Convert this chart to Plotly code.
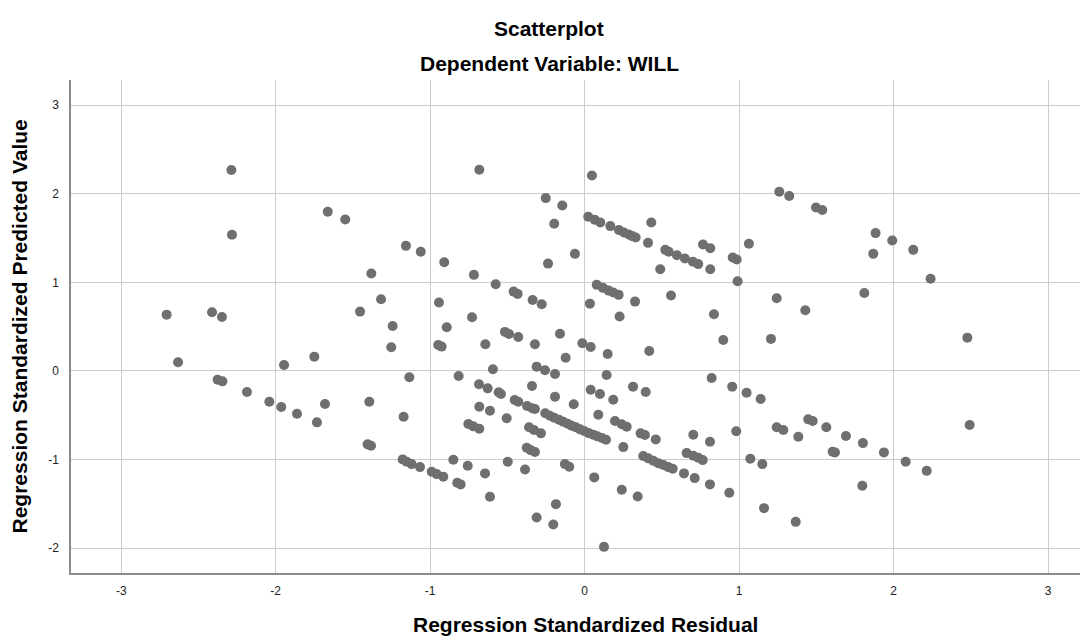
import plotly.graph_objects as go

# Regression Standardized Residual (x) and Regression Standardized Predicted Value (y)
residual = [
    -2.287, -2.283, -1.663, -1.550, -1.157, -1.381, -1.318, -1.454, -1.243, -2.706, -2.412, -2.348,
    -1.252, -2.632, -1.946, -1.750, -2.376, -2.345, -2.186, -2.041, -1.964, -1.862, -1.681, -1.733,
    -1.394, -1.172, -1.135, -1.405, -1.383, -1.178, -1.152,
    -1.061, -0.909, -0.682, -0.717, -0.576, -0.460, -0.434, -0.337, -0.278, -0.943, -0.729, -0.893,
    -0.252, -0.145, -0.197, -0.237, -0.063, 0.047,
    0.023, 0.065, 0.101, 0.166, 0.222, 0.254, 0.285, 0.308, 0.330,
    0.431, 0.410, 0.522, 0.544, 0.597, 0.649, 0.701, 0.735, 0.489, 0.766, 0.813, 0.813, 0.958, 0.984,
    1.063, 0.990, 0.078, 0.118, 0.155, 0.185, 0.220, 0.034, 0.326, 0.559, 0.226, 0.837,
    1.260, 1.324, 1.497, 1.538, 1.883, 1.991, 2.127, 1.868, 2.239, 1.243, 1.428, 1.810,
    1.206, 2.477, 2.492, 1.048, 1.139, 1.243, 1.286, 1.383, 1.447, 1.476, 1.564, 1.691, 1.801,
    1.605, 1.620, 1.937, 2.078, 2.214, 1.797, 1.072, 1.150, 1.161, 1.366,
    -0.948, -0.926, -0.816, -0.643, -0.594, -0.516, -0.490, -0.430, -0.322, -0.160, -0.123, -0.015,
    0.039, 0.149, 0.418, 0.897, 0.142, -0.684, -0.628, -0.557, -0.542, -0.453, -0.430, -0.373,
    -0.339, -0.322, -0.311, -0.257, -0.192, -0.341, -0.192, -0.071, 0.039, 0.099, 0.185, 0.088,
    0.313, 0.395, 0.822, 0.955, 0.981,
    -0.255, -0.225, -0.197, -0.166, -0.139, -0.110, -0.084, -0.058, -0.030, -0.003, 0.026, 0.056,
    0.082, 0.112, 0.138,
    -0.753, -0.721, -0.682, -0.682, -0.613, -0.505, -0.360, -0.328, -0.283, -0.375, -0.350, -0.322,
    0.196, 0.240, 0.272, 0.362, 0.390, 0.460, 0.250, 0.703, 0.811,
    0.379, 0.412, 0.444, 0.476, 0.509, 0.541, 0.570, 0.660, 0.703, 0.735, 0.764,
    0.643, 0.712, 0.811, 0.936, 0.240, 0.343, 0.062, 0.125, -0.186, -0.311, -0.203,
    -0.128, -0.100, -0.386, -0.498, -0.645, -0.613, -0.757, -0.850, -0.825, -0.803,
    -1.120, -1.066, -0.990, -0.958, -0.915,
]
predicted = [
    2.268, 1.537, 1.797, 1.710, 1.412, 1.100, 0.810, 0.670, 0.508, 0.636, 0.663, 0.610,
    0.268, 0.098, 0.068, 0.162, -0.098, -0.117, -0.237, -0.347, -0.407, -0.482, -0.373, -0.580,
    -0.347, -0.516, -0.071, -0.828, -0.844, -0.998, -1.025,
    1.345, 1.228, 2.271, 1.085, 0.979, 0.896, 0.870, 0.802, 0.753, 0.772, 0.607, 0.494,
    1.951, 1.868, 1.661, 1.212, 1.322, 2.207,
    1.740, 1.706, 1.676, 1.635, 1.590, 1.563, 1.540, 1.522, 1.506,
    1.676, 1.446, 1.367, 1.345, 1.307, 1.269, 1.232, 1.206, 1.149, 1.427, 1.386, 1.149, 1.280, 1.258,
    1.435, 1.013, 0.972, 0.938, 0.907, 0.885, 0.859, 0.760, 0.783, 0.851, 0.614, 0.641,
    2.023, 1.974, 1.845, 1.816, 1.556, 1.472, 1.367, 1.322, 1.040, 0.821, 0.686, 0.881,
    0.362, 0.376, -0.610, -0.245, -0.316, -0.636, -0.667, -0.742, -0.546, -0.565, -0.636, -0.734, -0.814,
    -0.912, -0.919, -0.919, -1.025, -1.127, -1.296, -0.991, -1.051, -1.548, -1.703,
    0.294, 0.275, -0.056, 0.302, 0.019, 0.441, 0.418, 0.384, 0.302, 0.421, 0.150, 0.313,
    0.271, 0.192, 0.226, 0.350, -0.045, -0.150, -0.196, -0.241, -0.260, -0.328, -0.347, -0.395,
    -0.421, -0.429, 0.049, 0.008, -0.034, -0.169, -0.290, -0.376, -0.211, -0.260, -0.324, -0.494,
    -0.177, -0.237, -0.079, -0.177, -0.681,
    -0.478, -0.505, -0.527, -0.550, -0.573, -0.595, -0.618, -0.636, -0.659, -0.678, -0.701, -0.720,
    -0.738, -0.757, -0.776,
    -0.599, -0.625, -0.652, -0.403, -0.449, -0.534, -0.636, -0.667, -0.704, -0.867, -0.893, -0.915,
    -0.565, -0.602, -0.629, -0.704, -0.723, -0.772, -0.859, -0.720, -0.799,
    -0.960, -0.986, -1.014, -1.040, -1.062, -1.085, -1.104, -0.927, -0.957, -0.980, -1.006,
    -1.156, -1.209, -1.280, -1.375, -1.341, -1.416, -1.201, -1.985, -1.503, -1.653, -1.732,
    -1.051, -1.081, -1.111, -1.025, -1.156, -1.420, -1.070, -1.002, -1.262, -1.280,
    -1.051, -1.085, -1.138, -1.164, -1.194,
]

x_ticks = [-3, -2, -1, 0, 1, 2, 3]
x_tick_labels = ["-3", "-2", "-1", "0", "1", "2", "3"]
y_ticks = [-2, -1, 0, 1, 2, 3]
y_tick_labels = ["-2", "-1", "0", "1", "2", "3"]

title_text = "Scatterplot"
subtitle_text = "Dependent Variable: WILL"
x_title = "Regression Standardized Residual"
y_title = "Regression Standardized Predicted Value"

FONT = "Liberation Sans, Arial, sans-serif"
TITLE_SIZE = 21

fig = go.Figure()
fig.add_trace(go.Scatter(
    x=residual, y=predicted, mode="markers",
    marker=dict(size=10, color="#6f6f6f", line=dict(width=0)),
    hoverinfo="x+y", showlegend=False,
))

# page body has an 8px margin, so the figure is offset by 8px; compensate
fig.update_layout(
    width=1080, height=631,
    margin=dict(l=63, r=0, t=72, b=66),
    paper_bgcolor="white", plot_bgcolor="white",
    font=dict(family=FONT, color="#000000"),
    showlegend=False,
    xaxis=dict(
        range=[-3.325, 3.258], tickvals=x_ticks, ticktext=x_tick_labels,
        showgrid=True, gridcolor="#cccccc", gridwidth=1, zeroline=False,
        showline=True, linecolor="#8c8c8c", linewidth=1.5, mirror=False,
        ticks="", ticklabelstandoff=6,
        tickfont=dict(family=FONT, size=12, color="#222222"),
    ),
    yaxis=dict(
        range=[-2.28, 3.284], tickvals=y_ticks, ticktext=y_tick_labels,
        showgrid=True, gridcolor="#cccccc", gridwidth=1, zeroline=False,
        showline=True, linecolor="#8c8c8c", linewidth=1.5, mirror=False,
        ticks="", ticklabelstandoff=8,
        tickfont=dict(family=FONT, size=12, color="#222222"),
    ),
    annotations=[
        dict(text="<b>%s</b>" % title_text, xref="paper", yref="paper",
             x=(549 - 71) / 1017, y=1, yshift=52, xanchor="center", yanchor="middle",
             showarrow=False, font=dict(family=FONT, size=TITLE_SIZE, color="#000000")),
        dict(text="<b>%s</b>" % subtitle_text, xref="paper", yref="paper",
             x=(549 - 71) / 1017, y=1, yshift=17, xanchor="center", yanchor="middle",
             showarrow=False, font=dict(family=FONT, size=TITLE_SIZE, color="#000000")),
        dict(text="<b>%s</b>" % x_title, xref="paper", yref="paper",
             x=(585 - 71) / 1017, y=0, yshift=-51, xanchor="center", yanchor="middle",
             showarrow=False, font=dict(family=FONT, size=TITLE_SIZE, color="#000000")),
        dict(text="<b>%s</b>" % y_title, xref="paper", yref="paper",
             x=0, xshift=-52, y=0.5, xanchor="center", yanchor="middle", textangle=-90,
             showarrow=False, font=dict(family=FONT, size=TITLE_SIZE, color="#000000")),
    ],
)

fig.write_html("out.html")
